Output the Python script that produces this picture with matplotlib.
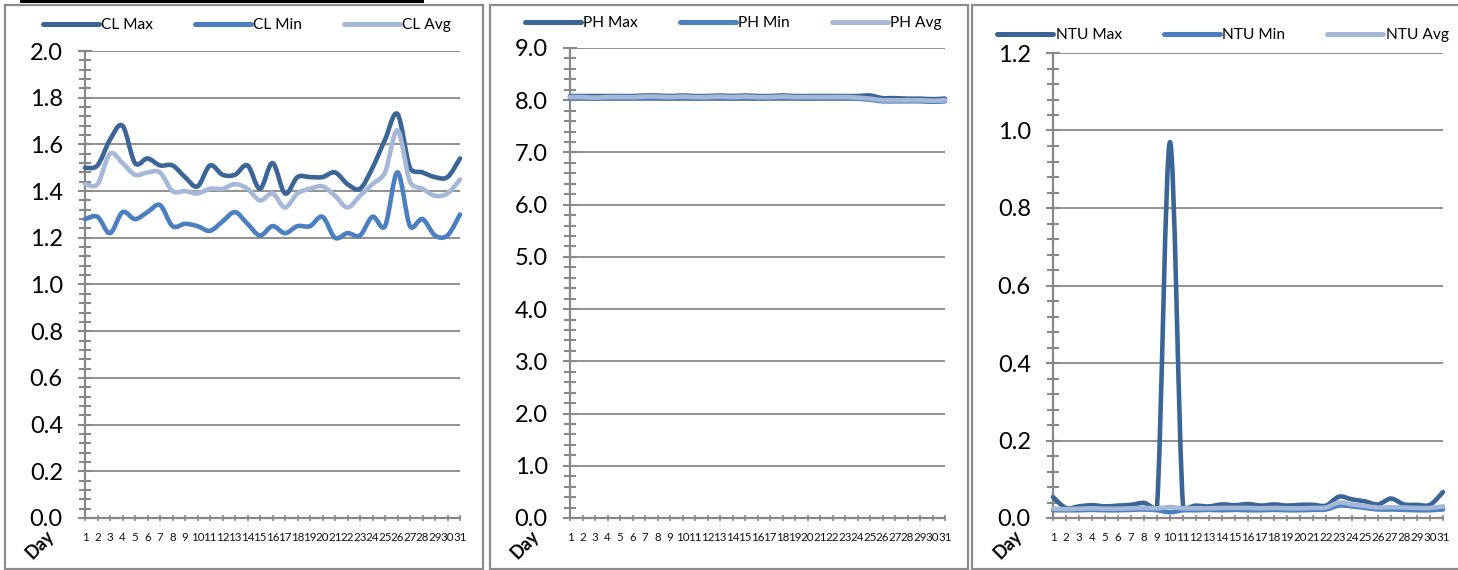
import numpy as np
import matplotlib
matplotlib.use("Agg")
import matplotlib.pyplot as plt
from matplotlib.path import Path
from matplotlib.patches import PathPatch, Rectangle
from matplotlib.lines import Line2D
from matplotlib.ticker import MultipleLocator

plt.rcParams['font.family'] = ['Lato', 'DejaVu Sans']

days = list(range(1, 32))
day_labels = [str(d) for d in days]

cl_max = [1.50, 1.51, 1.62, 1.68, 1.52, 1.54, 1.51, 1.51, 1.46, 1.42, 1.51, 1.47, 1.47, 1.51, 1.41, 1.52,
          1.39, 1.46, 1.46, 1.46, 1.48, 1.43, 1.41, 1.50, 1.62, 1.73, 1.50, 1.48, 1.46, 1.46, 1.54]
cl_min = [1.28, 1.29, 1.22, 1.31, 1.28, 1.31, 1.34, 1.25, 1.26, 1.25, 1.23, 1.27, 1.31, 1.26, 1.21, 1.25,
          1.22, 1.25, 1.25, 1.29, 1.20, 1.22, 1.21, 1.29, 1.25, 1.48, 1.25, 1.28, 1.21, 1.21, 1.30]
cl_avg = [1.43, 1.43, 1.56, 1.52, 1.47, 1.48, 1.48, 1.40, 1.40, 1.39, 1.41, 1.41, 1.43, 1.41, 1.36, 1.39,
          1.33, 1.39, 1.41, 1.42, 1.38, 1.33, 1.38, 1.43, 1.48, 1.66, 1.44, 1.41, 1.38, 1.39, 1.45]

ph_max = [8.08, 8.08, 8.08, 8.08, 8.08, 8.08, 8.09, 8.09, 8.08, 8.09, 8.08, 8.08, 8.09, 8.08, 8.09, 8.08,
          8.08, 8.09, 8.08, 8.08, 8.08, 8.08, 8.08, 8.08, 8.09, 8.04, 8.04, 8.03, 8.03, 8.02, 8.03]
ph_min = [8.04, 8.04, 8.03, 8.04, 8.04, 8.04, 8.04, 8.04, 8.03, 8.04, 8.03, 8.04, 8.04, 8.03, 8.04, 8.03,
          8.04, 8.04, 8.04, 8.03, 8.04, 8.04, 8.04, 8.03, 8.01, 7.98, 7.98, 7.98, 7.98, 7.97, 7.98]
ph_avg = [8.06, 8.06, 8.05, 8.06, 8.06, 8.06, 8.07, 8.07, 8.06, 8.07, 8.06, 8.06, 8.07, 8.06, 8.07, 8.06,
          8.06, 8.07, 8.06, 8.06, 8.06, 8.06, 8.06, 8.05, 8.03, 8.00, 8.00, 8.00, 8.00, 7.99, 8.00]

ntu_max = [0.054, 0.026, 0.030, 0.033, 0.030, 0.032, 0.034, 0.039, 0.030, 0.970, 0.032, 0.032, 0.030, 0.035,
           0.033, 0.036, 0.032, 0.035, 0.032, 0.034, 0.034, 0.032, 0.055, 0.048, 0.043, 0.035, 0.050, 0.035,
           0.034, 0.034, 0.067]
ntu_min = [0.020, 0.020, 0.020, 0.021, 0.020, 0.020, 0.021, 0.022, 0.020, 0.015, 0.020, 0.020, 0.021, 0.020,
           0.021, 0.020, 0.020, 0.021, 0.020, 0.020, 0.021, 0.022, 0.032, 0.030, 0.026, 0.022, 0.022, 0.021,
           0.020, 0.020, 0.022]
ntu_avg = [0.024, 0.023, 0.024, 0.025, 0.024, 0.024, 0.025, 0.026, 0.025, 0.028, 0.025, 0.025, 0.025, 0.026,
           0.026, 0.026, 0.025, 0.026, 0.025, 0.025, 0.026, 0.027, 0.040, 0.035, 0.031, 0.027, 0.028, 0.027,
           0.026, 0.026, 0.030]

C_MAX = '#3A6597'
C_MIN = '#4A7FC0'
C_AVG = '#A6B8D8'
GRID = '#888888'

W, H = 1458, 570
fig = plt.figure(figsize=(W / 100, H / 100), dpi=100)


def smooth_path(xs, ys, sx, sy):
    """Excel-like smoothed bezier path; sx, sy = pixels per data unit."""
    P = np.column_stack([np.asarray(xs, float) * sx, np.asarray(ys, float) * sy])
    n = len(P)
    verts = [P[0]]
    codes = [Path.MOVETO]
    for i in range(n - 1):
        p0 = P[i - 1] if i > 0 else P[i]
        p1 = P[i]
        p2 = P[i + 1]
        p3 = P[i + 2] if i + 2 < n else P[i + 1]
        d12 = np.linalg.norm(p2 - p1)
        d02 = np.linalg.norm(p2 - p0)
        d13 = np.linalg.norm(p3 - p1)
        f = 1 / 6
        f1 = f if d02 / 6 < d12 / 2 else (d12 / d02 / 2 if d02 > 0 else 0)
        f2 = f if d13 / 6 < d12 / 2 else (d12 / d13 / 2 if d13 > 0 else 0)
        c1 = p1 + (p2 - p0) * f1
        c2 = p2 - (p3 - p1) * f2
        verts += [c1, c2, p2]
        codes += [Path.CURVE4] * 3
    V = np.array(verts)
    V[:, 0] /= sx
    V[:, 1] /= sy
    return Path(V, codes)


def panel(rect_px, ylim, major, minor, series, names, leg_center):
    l, r, t, b = rect_px
    ax = fig.add_axes([l / W, (H - b) / H, (r - l) / W, (b - t) / H])
    ax.set_xlim(1, 31)
    ax.set_ylim(*ylim)
    sx = (r - l) / 30.0
    sy = (b - t) / (ylim[1] - ylim[0])
    for vals, col in zip(series, [C_MAX, C_MIN, C_AVG]):
        path = smooth_path(days, vals, sx, sy)
        ax.add_patch(PathPatch(path, facecolor='none', edgecolor=col, lw=3.3,
                               capstyle='round', joinstyle='round', clip_on=False, zorder=3))
    ax.yaxis.set_major_locator(MultipleLocator(major))
    ax.yaxis.set_minor_locator(MultipleLocator(minor))
    ax.yaxis.set_major_formatter(matplotlib.ticker.FormatStrFormatter('%.1f'))
    ax.set_xticks(days)
    ax.set_xticklabels(day_labels)
    ax.grid(axis='y', which='major', color=GRID, lw=1.3, zorder=1)
    ax.set_axisbelow(True)
    for s in ['top', 'right']:
        ax.spines[s].set_visible(False)
    for s in ['left', 'bottom']:
        ax.spines[s].set_color(GRID)
        ax.spines[s].set_linewidth(1.6)
    ax.tick_params(axis='y', which='major', direction='inout', length=10, width=1.5, color=GRID,
                   pad=11, labelsize=17, labelcolor='black')
    ax.tick_params(axis='y', which='minor', direction='inout', length=8, width=1.5, color=GRID)
    ax.tick_params(axis='x', which='major', direction='inout', length=4, width=1.2, color=GRID,
                   pad=8, labelsize=8.3, labelcolor='#111111')
    handles = [Line2D([], [], color=c, lw=3.6, solid_capstyle='round') for c in [C_MAX, C_MIN, C_AVG]]
    fig.legend(handles, names, loc='center', ncol=3, frameon=False,
               bbox_to_anchor=(leg_center[0] / W, 1 - leg_center[1] / H),
               handlelength=3.6, handletextpad=0.15, columnspacing=2.7, fontsize=11.2)
    fig.text((l - 45) / W, 1 - 545 / H, 'Day', rotation=45, fontsize=13, fontweight='bold',
             ha='center', va='center')
    return ax


# panel borders
for x0, x1 in [(5, 483), (490, 968), (972, 1480)]:
    fig.add_artist(Rectangle((x0 / W, 1 - 569 / H), (x1 - x0) / W, (569 - 5) / H,
                             transform=fig.transFigure, facecolor='white', edgecolor='#8C8C8C',
                             lw=1.6, zorder=-5))
fig.add_artist(Rectangle((20 / W, 1 - 3 / H), (424 - 20) / W, 4 / H, transform=fig.transFigure,
                         facecolor='black', edgecolor='none', zorder=-4))

panel((85, 460, 51, 518), (0, 2.0), 0.2, 0.04, [cl_max, cl_min, cl_avg],
      ['CL Max', 'CL Min', 'CL Avg'], (247, 25))
panel((570, 945, 48, 518), (0, 9.0), 1.0, 0.2, [ph_max, ph_min, ph_avg],
      ['PH Max', 'PH Min', 'PH Avg'], (733, 23))
panel((1053, 1443, 53, 518), (0, 1.2), 0.2, 0.04, [ntu_max, ntu_min, ntu_avg],
      ['NTU Max', 'NTU Min', 'NTU Avg'], (1223, 35))

fig.savefig('out.png', dpi=100)
